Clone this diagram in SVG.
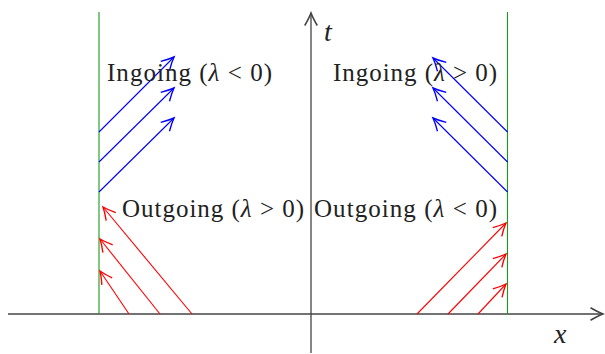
<svg xmlns="http://www.w3.org/2000/svg" width="605" height="354" viewBox="0 0 605 354">
<style>
.ax{stroke:#444;stroke-width:1.3;fill:none}
.wall{stroke:#1a9a1a;stroke-width:1.1;fill:none}
.blue{stroke:#0000ff;stroke-width:1.1;fill:none}
.red{stroke:#ff0000;stroke-width:1.1;fill:none}
.lbl{font-family:"Liberation Serif","DejaVu Serif",serif;font-size:25px;fill:#222}
.var{font-family:"Liberation Serif","DejaVu Serif",serif;font-size:28px;font-style:italic;fill:#222}
</style>
<defs>
<marker id="hb" markerUnits="userSpaceOnUse" markerWidth="20" markerHeight="20" viewBox="-12 -8 14 16" refX="0" refY="0" orient="auto"><path d="M-10,-5 Q-4,-1.5 0,0 Q-4,1.5 -10,5" stroke="#0000ff" stroke-width="1.1" fill="none"/></marker>
<marker id="hr" markerUnits="userSpaceOnUse" markerWidth="20" markerHeight="20" viewBox="-12 -8 14 16" refX="0" refY="0" orient="auto"><path d="M-10,-5 Q-4,-1.5 0,0 Q-4,1.5 -10,5" stroke="#ff0000" stroke-width="1.1" fill="none"/></marker>
<marker id="hk" markerUnits="userSpaceOnUse" markerWidth="20" markerHeight="20" viewBox="-12 -8 14 16" refX="0" refY="0" orient="auto"><path d="M-10,-5 Q-4,-1.5 0,0 Q-4,1.5 -10,5" stroke="#444" stroke-width="1.3" fill="none"/></marker>
</defs>
<g id="axes">
<line class="ax" x1="8" y1="314" x2="603" y2="314" marker-end="url(#hk)"/>
<line class="ax" x1="311" y1="353" x2="311" y2="13" marker-end="url(#hk)"/>
</g>
<g id="walls">
<line class="wall" x1="99" y1="12" x2="99" y2="314"/>
<line class="wall" x1="507.5" y1="12" x2="507.5" y2="314"/>
</g>
<g id="connectors">
<line class="blue" x1="99" y1="132" x2="174" y2="57" marker-end="url(#hb)"/>
<line class="blue" x1="99" y1="162" x2="174" y2="88" marker-end="url(#hb)"/>
<line class="blue" x1="99" y1="192" x2="174" y2="118" marker-end="url(#hb)"/>
<line class="blue" x1="507.5" y1="132" x2="433" y2="58" marker-end="url(#hb)"/>
<line class="blue" x1="507.5" y1="162" x2="433" y2="88" marker-end="url(#hb)"/>
<line class="blue" x1="507.5" y1="192" x2="433" y2="118" marker-end="url(#hb)"/>
<line class="red" x1="192" y1="314" x2="103" y2="207" marker-end="url(#hr)"/>
<line class="red" x1="160" y1="314" x2="100" y2="239" marker-end="url(#hr)"/>
<line class="red" x1="129" y1="314" x2="100" y2="271" marker-end="url(#hr)"/>
<line class="red" x1="417" y1="314" x2="506" y2="223" marker-end="url(#hr)"/>
<line class="red" x1="448" y1="314" x2="506" y2="254" marker-end="url(#hr)"/>
<line class="red" x1="478" y1="314" x2="506" y2="284" marker-end="url(#hr)"/>
</g>
<g id="label-in-left"><text class="lbl" x="107" y="81" textLength="165" lengthAdjust="spacing">Ingoing (<tspan font-style="italic">λ</tspan> &lt; 0)</text></g>
<g id="label-in-right"><text class="lbl" x="333" y="81" textLength="164" lengthAdjust="spacing">Ingoing (<tspan font-style="italic">λ</tspan> &gt; 0)</text></g>
<g id="label-out-left"><text class="lbl" x="122" y="217" textLength="182" lengthAdjust="spacing">Outgoing (<tspan font-style="italic">λ</tspan> &gt; 0)</text></g>
<g id="label-out-right"><text class="lbl" x="314" y="217" textLength="183" lengthAdjust="spacing">Outgoing (<tspan font-style="italic">λ</tspan> &lt; 0)</text></g>
<g id="label-t"><text class="var" x="324" y="41">t</text></g>
<g id="label-x"><text class="var" x="554" y="343">x</text></g>
</svg>
